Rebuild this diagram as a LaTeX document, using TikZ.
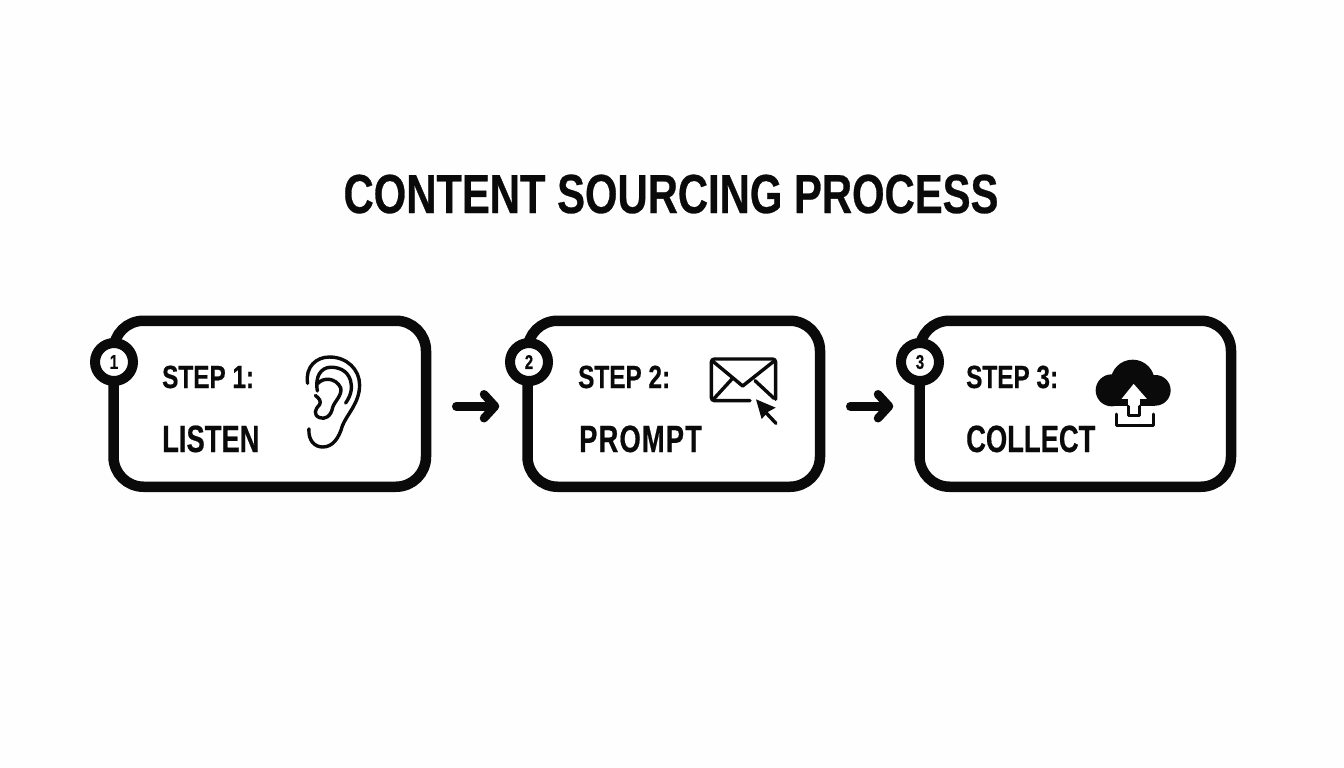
\documentclass[tikz,border=0pt]{standalone}
\usepackage{fontspec}
\setmainfont{Liberation Sans}[FakeStretch=0.76,BoldFeatures={FakeBold=0.5}]
\newfontfamily\namefont{Liberation Sans}[FakeStretch=0.72,BoldFeatures={FakeBold=0.5}]
\usetikzlibrary{arrows.meta}

\definecolor{inkblack}{HTML}{0A0A0A}
\definecolor{paperwhite}{HTML}{FEFEFE}

\tikzset{
  stepbox/.style={draw=inkblack,line width=10.5pt,rounded corners=30pt,fill=white,inner sep=0pt},
  stepbadge/.style={circle,draw=inkblack,line width=10pt,fill=white,minimum size=38pt,inner sep=0pt,text=inkblack,font=\bfseries\fontsize{20}{20}\selectfont},
  steplabel/.style={anchor=base west,inner sep=0pt,text=inkblack,font=\bfseries\fontsize{32}{32}\selectfont},
  stepname/.style={anchor=base west,inner sep=0pt,text=inkblack,font=\namefont\bfseries\fontsize{38}{38}\selectfont},
  flowarrow/.style={draw=inkblack,line width=8.5pt,line cap=round,-{Straight Barb[round,length=11pt,width=24pt]}},
  iconline/.style={draw=inkblack,line width=3.4pt,line cap=round,line join=round},
}

\begin{document}
\begin{tikzpicture}[x=1pt,y=-1pt]

\useasboundingbox[fill=paperwhite] (0,0) rectangle (1344,768) ;

\node[anchor=base,inner sep=0pt,text=inkblack,font=\bfseries\fontsize{55}{55}\selectfont] (title) at (671,213) {CONTENT SOURCING PROCESS} ;

% the three boxes
\node[stepbox,minimum width=312.5pt,minimum height=166pt] (box1) at (269.75,403.75) {} ;
\node[stepbox,minimum width=292.5pt,minimum height=166pt] (box2) at (673.75,403.75) {} ;
\node[stepbox,minimum width=311.5pt,minimum height=166pt] (box3) at (1075.25,403.75) {} ;

\node[stepbadge] (badge1) at (114,362) {1} ;
\node[stepbadge] (badge2) at (529,362) {2} ;
\node[stepbadge] (badge3) at (920,362) {3} ;

\node[steplabel] (label1) at (162,388) {STEP 1:} ;
\node[stepname] (name1) at (162,452) {LISTEN} ;
\node[steplabel] (label2) at (578,388) {STEP 2:} ;
\node[stepname] (name2) at (579,452) {\addfontfeature{LetterSpace=3}PROMPT} ;
\node[steplabel] (label3) at (966,388) {STEP 3:} ;
\node[stepname] (name3) at (966,452) {COLLECT} ;

\draw[flowarrow,shorten <=25pt,shorten >=23pt] ([yshift=-2.5pt]box1.east) -- ([yshift=-2.5pt]box2.west) ;
\draw[flowarrow,shorten <=25pt,shorten >=21pt] ([yshift=-2.5pt]box2.east) -- ([yshift=-2.5pt]box3.west) ;

% ear
\begin{scope}[shift={(292,345.5)},xscale=0.325,yscale=0.303]

\draw[iconline] (48,125) .. controls (40,70) and (75,38) .. (115,38)
  .. controls (170,38) and (208,80) .. (208,130)
  .. controls (208,190) and (170,225) .. (155,265)
  .. controls (145,305) and (125,335) .. (95,335)
  .. controls (70,335) and (50,315) .. (52,275) ;
\draw[iconline] (165,190) .. controls (185,160) and (185,135) .. (180,115)
  .. controls (170,80) and (140,70) .. (115,72)
  .. controls (90,75) and (70,100) .. (78,150) ;
\draw[iconline] (80,125) .. controls (95,105) and (135,105) .. (150,140)
  .. controls (155,165) and (130,185) .. (125,205)
  .. controls (120,235) and (100,245) .. (85,238)
  .. controls (65,230) and (70,210) .. (85,195)
  .. controls (90,185) and (85,175) .. (72,165) ;

\end{scope}

% envelope with cursor
\begin{scope}[shift={(500,310)},scale=1/3]

\draw[iconline,rounded corners=3pt] (750,272) -- (634,272) -- (634,147) -- (827,147) -- (827,268) ;
\draw[iconline] (640,155) -- (728,228) -- (820,155) ;
\draw[iconline] (640,268) -- (695,208) ;
\draw[iconline] (822,265) -- (765,212) ;

\fill[inkblack] (768,268) -- (827,293) -- (805,305) -- (785,327) -- cycle ;
\draw[iconline] (795,305) -- (828,340) ;

\end{scope}

% cloud with upload arrow
\begin{scope}[shift={(890,310)},scale=1/3]

\fill[inkblack] (728,215) circle (66) ;
\fill[inkblack] (665,241) circle (48) ;
\fill[inkblack] (796,241) circle (46) ;
\fill[inkblack] (665,225) rectangle (796,289) ;

\draw[fill=white,draw=white,line width=1pt] (731,224) -- (767,265) -- (748,265) -- (748,312) -- (716,312) -- (716,265) -- (698,265) -- cycle ;
\draw[iconline,line width=2.8pt] (716,289) -- (716,316) -- (748,316) -- (748,289) ;
\draw[iconline,line width=3pt] (678,312) -- (678,346) -- (790,346) -- (790,312) ;

\end{scope}

\end{tikzpicture}
\end{document}
